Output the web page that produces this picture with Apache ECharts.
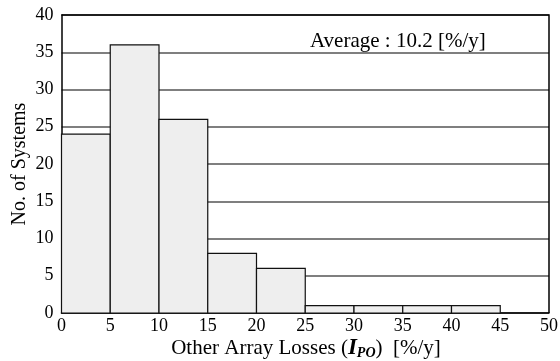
<!DOCTYPE html>
<html>
<head>
<meta charset="utf-8">
<script src="https://cdn.jsdelivr.net/npm/echarts@6/dist/echarts.min.js"></script>
<style>
  html, body { margin: 0; padding: 0; background: #fff; }
  #chart { width: 560px; height: 361px; }
</style>
</head>
<body>
<div id="chart"></div>
<script>
// Histogram bins: lower edge, upper edge and number of systems in each bin
const binStart = [0, 5, 10, 15, 20, 25, 30, 35, 40];
const binEnd   = [5, 10, 15, 20, 25, 30, 35, 40, 45];
const systemCounts = [24, 36, 26, 8, 6, 1, 1, 1, 1];
const averageLabel = 'Average : 10.2 [%/y]';
const yTitle = 'No. of Systems';
const xTitle = '{n|Other Array Losses (}{i|I}{s|PO}{n|)  [%/y]}';

const FONT = '"Liberation Serif", "Times New Roman", serif';

const chart = echarts.init(document.getElementById('chart'));

const barData = binStart.map((s, i) => [s, binEnd[i], systemCounts[i]]);

chart.setOption({
  animation: false,
  backgroundColor: '#fff',
  grid: { left: 61.5, right: 11, top: 15, bottom: 48, show: false, outerBoundsMode: 'none', containLabel: false },
  xAxis: {
    type: 'value', min: 0, max: 50, interval: 5,
    axisLine: { show: true, lineStyle: { color: '#000', width: 1.5 } },
    axisTick: { show: false },
    splitLine: { show: false },
    axisLabel: { color: '#000', fontFamily: FONT, fontSize: 18, margin: 4 }
  },
  yAxis: {
    type: 'value', min: 0, max: 40, interval: 5,
    axisLine: { show: true, lineStyle: { color: '#000', width: 1.5 } },
    axisTick: { show: false },
    splitLine: { show: true, lineStyle: { color: '#555', width: 1.5 } },
    axisLabel: { color: '#000', fontFamily: FONT, fontSize: 18, margin: 8 }
  },
  series: [{
    type: 'custom',
    data: barData,
    encode: { x: [0, 1], y: 2 },
    renderItem: function (params, api) {
      const p0 = api.coord([api.value(0), api.value(2)]);
      const p1 = api.coord([api.value(1), 0]);
      return {
        type: 'rect',
        shape: { x: p0[0], y: p0[1], width: p1[0] - p0[0], height: p1[1] - p0[1] },
        style: { fill: '#eeeeee', stroke: '#111', lineWidth: 1.2 }
      };
    },
    z: 3
  }],
  graphic: [
    // frame along top and right of the plot area
    { type: 'polyline', shape: { points: [[61.5, 15], [549, 15], [549, 313]] },
      style: { stroke: '#000', lineWidth: 1.5, fill: null }, z: 10 },
    { type: 'text', x: 310, y: 41,
      style: { text: averageLabel, font: '21px ' + FONT, fill: '#000', verticalAlign: 'middle' }, z: 10 },
    // rotated y-axis title
    { type: 'text', x: 20, y: 164, rotation: Math.PI / 2,
      style: { text: yTitle, font: '20px ' + FONT, fill: '#000', align: 'center', verticalAlign: 'middle' }, z: 10 },
    // x-axis title with bold italic symbol and subscript
    { type: 'text', x: 306, y: 348,
      style: {
        text: xTitle, align: 'center', verticalAlign: 'middle', fill: '#000',
        rich: {
          n: { fontFamily: FONT, fontSize: 21, color: '#000' },
          i: { fontFamily: FONT, fontSize: 23, fontWeight: 'bold', fontStyle: 'italic', color: '#000' },
          s: { fontFamily: FONT, fontSize: 14, fontWeight: 'bold', fontStyle: 'italic', color: '#000', padding: [10, 0, 0, 0] }
        }
      }, z: 10 }
  ]
});
</script>
</body>
</html>
